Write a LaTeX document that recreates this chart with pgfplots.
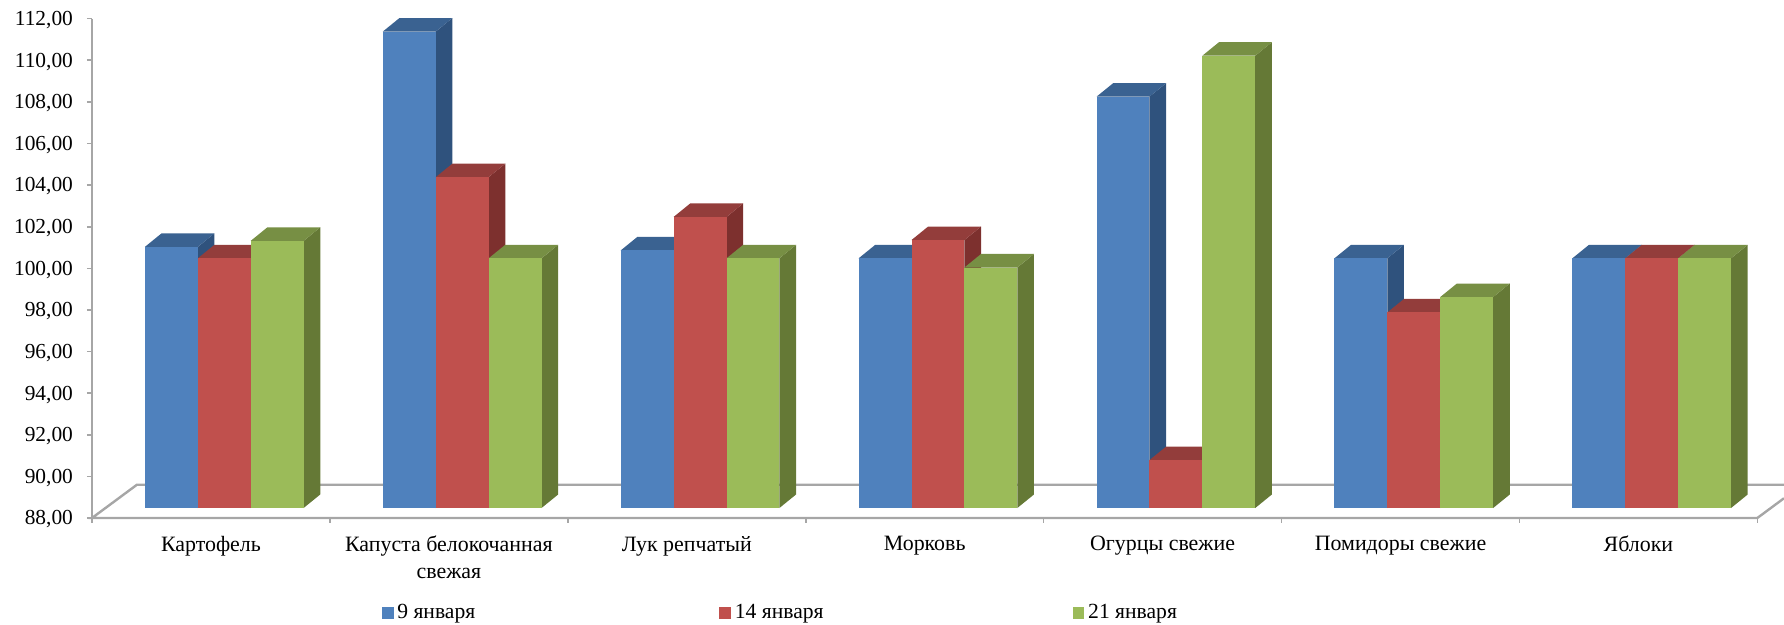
\documentclass[border=0pt]{standalone}
\usepackage{fontspec}
\setmainfont{Liberation Serif}
\usepackage{pgfplots}
\pgfplotsset{compat=1.18}

\definecolor{axisgray}{HTML}{A6A6A6}
\definecolor{bluefront}{HTML}{4F81BD}
\definecolor{blueside}{HTML}{2F527D}
\definecolor{bluetop}{HTML}{3A6291}
\definecolor{redfront}{HTML}{C0504D}
\definecolor{redside}{HTML}{7D302E}
\definecolor{redtop}{HTML}{933D3B}
\definecolor{greenfront}{HTML}{9BBB59}
\definecolor{greenside}{HTML}{657936}
\definecolor{greentop}{HTML}{778F44}

% one 3D column: category, slot in group, value, colour prefix
\newcommand{\column}[4]{%
  \pgfmathsetmacro{\xa}{#1+0.2222+#2*0.2224}%
  \pgfmathsetmacro{\xb}{\xa+0.2224}%
  \pgfmathsetmacro{\xc}{\xb+0.07}%
  \pgfmathsetmacro{\xd}{\xa+0.07}%
  \pgfmathsetmacro{\yb}{88.48}%
  \pgfmathsetmacro{\yt}{#3+0.48}%
  \pgfmathsetmacro{\ybb}{\yb+0.65}%
  \pgfmathsetmacro{\ytt}{\yt+0.65}%
  \addplot[fill=#4side, draw=none, mark=none, forget plot] coordinates {(\xb,\yb)(\xc,\ybb)(\xc,\ytt)(\xb,\yt)};
  \addplot[fill=#4top, draw=none, mark=none, forget plot] coordinates {(\xa,\yt)(\xd,\ytt)(\xc,\ytt)(\xb,\yt)};
  \addplot[fill=#4front, draw=none, mark=none, forget plot] coordinates {(\xa,\yb)(\xb,\yb)(\xb,\yt)(\xa,\yt)};
}
\newcommand{\group}[4]{%
  \column{#1}{0}{#2}{blue}
  \column{#1}{1}{#3}{red}
  \column{#1}{2}{#4}{green}
}

\begin{document}
\begin{tikzpicture}
\path[use as bounding box] (0,0) rectangle (892pt,312.5pt);
\begin{axis}[
  at={(46pt,53.5pt)}, anchor=south west,
  scale only axis, width=846pt, height=249.65pt,
  xmin=0, xmax=7.112, ymin=88, ymax=112,
  clip=false,
  axis lines=left,
  axis line style={-, draw=axisgray, line width=1.2pt},
  x axis line style={draw=none},
  tick align=outside,
  major tick length=2.5pt,
  tick style={draw=axisgray, line width=0.8pt},
  ytick={88,90,...,112},
  xtick={0,1,...,7},
  xticklabels={},
  extra x ticks={0.5,1.5,2.5,3.5,4.5,5.5,6.5},
  extra x tick labels={Картофель,{Капуста белокочанная\\свежая},Лук репчатый,Морковь,Огурцы свежие,Помидоры свежие,Яблоки},
  extra x tick style={major tick length=0pt, tick style={draw=none}},
  x tick label style={align=center, font=\fontsize{10.95}{13.6}\selectfont, yshift=-5.5pt},
  y tick label style={font=\fontsize{10.7}{13}\selectfont, xshift=-3.5pt, yshift=-0.7pt,
    /pgf/number format/.cd, fixed, fixed zerofill, precision=2, use comma, assume math mode=true},
  legend columns=3,
  legend cell align=left,
  legend style={at={(0.171,-0.19)}, anchor=west, draw=none, fill=none, inner sep=0pt,
    font=\fontsize{10.8}{13}\selectfont,
    /tikz/column 2/.style={column sep=120pt},
    /tikz/column 4/.style={column sep=122.5pt}},
  legend image code/.code={\fill[#1] (0pt,-2.7pt) rectangle (5.4pt,2.7pt);},
]
% floor
\addplot[draw=axisgray, line width=1.2pt, mark=none, forget plot] coordinates {(7,88)(0,88)(0.189,89.6)(7.112,89.6)};
\addplot[draw=axisgray, line width=1.2pt, mark=none, forget plot] coordinates {(7,88)(7.112,88.95)};

\group{0}{100.55}{100.00}{100.84}
\group{1}{110.90}{103.90}{100.00}
\group{2}{100.38}{101.99}{100.00}
\group{3}{100.00}{100.88}{99.56}
\group{4}{107.77}{90.30}{109.74}
\group{5}{100.00}{97.40}{98.14}
\group{6}{100.00}{100.00}{100.00}

\addlegendimage{bluefront}\addlegendentry{9 января}
\addlegendimage{redfront}\addlegendentry{14 января}
\addlegendimage{greenfront}\addlegendentry{21 января}
\end{axis}
\end{tikzpicture}
\end{document}
